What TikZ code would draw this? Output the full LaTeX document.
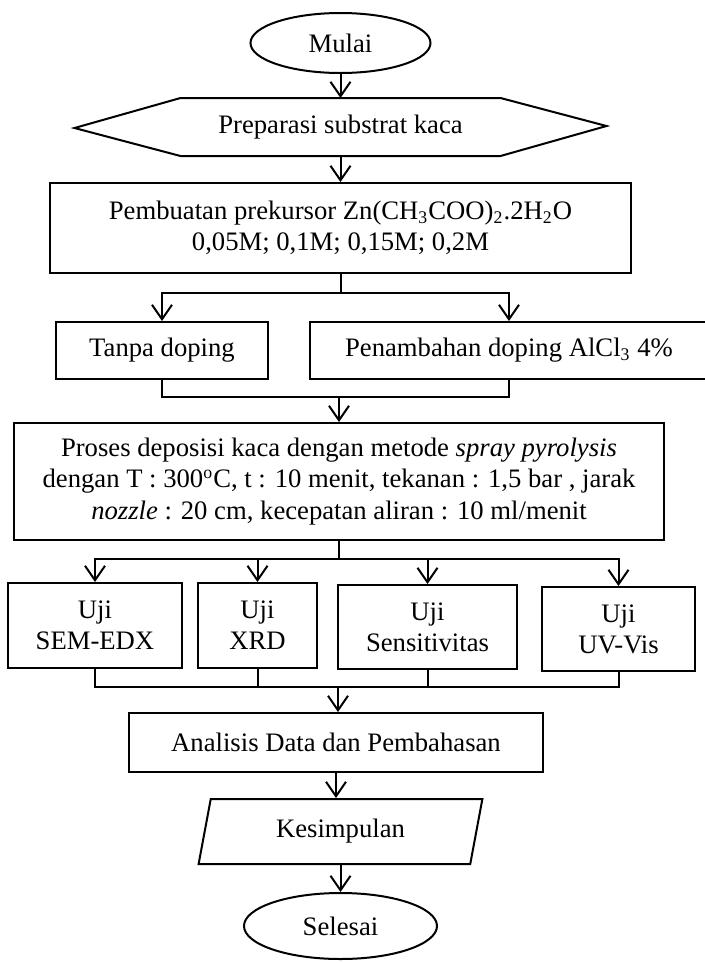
\documentclass[tikz,border=0pt]{standalone}
\usepackage{fontspec}
\setmainfont{Liberation Serif}
\usetikzlibrary{arrows.meta,shapes.geometric}
\tikzset{
  box/.style={draw, align=center, inner sep=0pt, font=\fontsize{12}{14}\selectfont},
  term/.style={box, ellipse},
  arr/.style={-{Straight Barb[length=6.5pt,width=9pt]}},
}
\begin{document}
\begin{tikzpicture}[x=0.45pt, y=-0.45pt, line width=0.9pt]
\useasboundingbox (0,0) rectangle (705,963);

% Start and glass preparation
\node[term, minimum width=81pt, minimum height=27pt] (mulai) at (340.5,43) {Mulai};
\node[box, draw=none, minimum width=143.1pt, minimum height=25.2pt] (prep) at (340.5,127) {Preparasi substrat kaca};
\draw (prep.north west) -- (prep.north east) -- ++(106,28) -- (prep.south east)
  -- (prep.south west) -- ++(-106,-28) -- cycle;

% Precursor
\node[box, minimum width=261.5pt, minimum height=40.5pt] (prek) at (340.5,228)
  {Pembuatan prekursor Zn(CH\textsubscript{3}COO)\textsubscript{2}.2H\textsubscript{2}O\\0,05M; 0,1M; 0,15M; 0,2M};

% With and without doping
\node[box, minimum width=95.4pt, minimum height=25.65pt] (tanpa) at (162,350.5) {Tanpa doping};
\node[box, minimum width=179.1pt, minimum height=25.65pt] (doping) at (509,350.5) {Penambahan doping AlCl\textsubscript{3} 4\%};

% Deposition
\node[box, minimum width=292.5pt, minimum height=52.65pt] (depo) at (339,481.5)
  {Proses deposisi kaca dengan metode \textit{spray pyrolysis}\\
   dengan T : 300\textsuperscript{o}C, t : 10 menit, tekanan : 1,5 bar , jarak\\
   \textit{nozzle} : 20 cm, kecepatan aliran : 10 ml/menit};

% Tests
\node[box, minimum width=78.3pt, minimum height=38.25pt] (sem) at (95,625.5) {Uji\\SEM-EDX};
\node[box, minimum width=53.55pt, minimum height=38.25pt] (xrd) at (257.5,625.5) {Uji\\XRD};
\node[box, minimum width=80.55pt, minimum height=37.8pt] (sens) at (427.5,627) {Uji\\Sensitivitas};
\node[box, minimum width=68.85pt, minimum height=37.8pt] (uv) at (618.5,629) {Uji\\UV-Vis};

% Analysis, conclusion and end
\node[box, minimum width=185.85pt, minimum height=26.55pt] (analisis) at (336,742.5) {Analisis Data dan Pembahasan};
\node[box, trapezium, trapezium left angle=76, trapezium right angle=104, trapezium stretches=true,
  minimum width=128.25pt, minimum height=29.25pt] (kes) at (340.5,831.5) {Kesimpulan};
\node[term, minimum width=86.85pt, minimum height=29.7pt] (selesai) at (340.5,926) {Selesai};

% Main arrows
\draw[arr] (mulai.south) -- (prep.north);
\draw[arr] (prep.south) -- (prek.north);

% Split to doping and merge again
\coordinate (s1) at (340.5,293);
\draw (prek.south) -- (s1);
\draw[arr] (s1) -| (tanpa.north);
\draw[arr] (s1) -| (doping.north);
\coordinate (m1) at (339,397);
\draw (tanpa.south) |- (m1) -| (doping.south);
\draw[arr] (m1) -- (depo.north);

% Split to tests and merge again
\coordinate (s2) at (339,559);
\draw (depo.south) -- (s2);
\foreach \t in {sem,xrd,sens,uv}
  \draw[arr] (s2) -| (\t.north);
\coordinate (m2) at (338,687);
\draw (sem.south) |- (m2) -| (uv.south);
\draw (xrd.south) -- (xrd.south |- m2);
\draw (sens.south) -- (sens.south |- m2);
\draw[arr] (m2) -- (m2 |- analisis.north);

% Conclusion and end
\draw[arr] (analisis.south) -- (analisis.south |- kes.north);
\draw[arr] (kes.south) -- (kes.south |- selesai.north);
\end{tikzpicture}
\end{document}
